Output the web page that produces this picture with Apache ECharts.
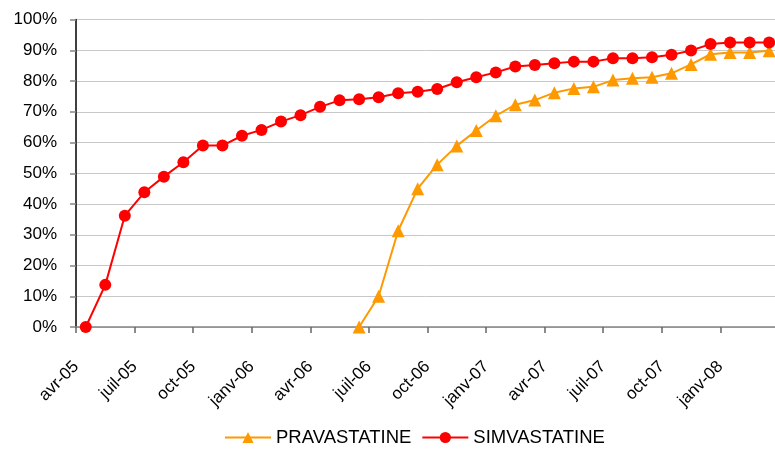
<!DOCTYPE html>
<html>
<head>
<meta charset="utf-8">
<script src="https://cdn.jsdelivr.net/npm/echarts@6/dist/echarts.min.js"></script>
<style>html,body{margin:0;padding:0;background:#fff;}#c{width:775px;height:452px;}</style>
</head>
<body>
<div id="c"></div>
<script>
// Monthly observations, avr-05 (index 0) to mars-08 (index 35)
const tickLabels = ['avr-05','juil-05','oct-05','janv-06','avr-06','juil-06','oct-06','janv-07','avr-07','juil-07','oct-07','janv-08'];
const simvastatine = [0, 13.7, 36.2, 43.8, 48.9, 53.6, 59.0, 59.0, 62.2, 64.1, 66.8, 68.9, 71.6, 73.7, 74.1, 74.7, 76.0, 76.5, 77.4, 79.6, 81.2, 82.8, 84.7, 85.2, 85.8, 86.3, 86.3, 87.4, 87.4, 87.7, 88.5, 89.9, 92.0, 92.5, 92.5, 92.5];
const pravastatineStart = 14;
const pravastatine = [0, 10.0, 31.3, 45.0, 52.8, 58.9, 63.9, 68.7, 72.3, 73.8, 76.2, 77.6, 78.1, 80.3, 80.9, 81.2, 82.5, 85.4, 88.7, 89.3, 89.3, 89.8];

const monthsPerTick = 3;
const tickValues = tickLabels.map((_, i) => i * monthsPerTick);
const simData = simvastatine.map((v, i) => [i + 0.5, v]);
const pravData = pravastatine.map((v, i) => [pravastatineStart + i + 0.5, v]);

const font = 'Liberation Sans, Arial, sans-serif';
const chart = echarts.init(document.getElementById('c'));
chart.setOption({
  animation: false,
  backgroundColor: '#fff',
  grid: { left: 76, right: 0, top: 19.5, bottom: 125, containLabel: false },
  legend: {
    top: 423,
    left: 219,
    itemWidth: 46,
    itemHeight: 14,
    itemGap: 10,
    textStyle: { fontFamily: font, fontSize: 18.5, color: '#000' },
    data: ['PRAVASTATINE', 'SIMVASTATINE']
  },
  xAxis: {
    type: 'value',
    min: 0,
    max: 35.8,
    interval: monthsPerTick,
    splitLine: { show: false },
    axisLine: { show: true, onZero: false, lineStyle: { color: '#858585', width: 1.5 } },
    axisTick: { show: true, length: 6, customValues: tickValues, lineStyle: { color: '#666', width: 1.5 } },
    axisLabel: {
      customValues: tickValues,
      rotate: 45,
      margin: 37,
      fontFamily: font,
      fontSize: 17,
      color: '#000',
      formatter: v => tickLabels[Math.round(v / monthsPerTick)] || ''
    }
  },
  yAxis: {
    type: 'value',
    min: 0,
    max: 100,
    interval: 10,
    axisLine: { show: true, lineStyle: { color: '#000', width: 1.5 } },
    axisTick: { show: true, length: 6, lineStyle: { color: '#858585', width: 1.5 } },
    splitLine: { lineStyle: { color: '#c8c8c8', width: 1 } },
    axisLabel: { formatter: '{value}%', fontFamily: font, fontSize: 17, color: '#000', margin: 19 }
  },
  series: [
    {
      name: 'PRAVASTATINE',
      type: 'line',
      data: pravData,
      symbol: 'triangle',
      symbolSize: 13,
      lineStyle: { color: '#FF9900', width: 2 },
      itemStyle: { color: '#FF9900' },
      z: 2
    },
    {
      name: 'SIMVASTATINE',
      type: 'line',
      data: simData,
      symbol: 'circle',
      symbolSize: 12,
      lineStyle: { color: '#FF0000', width: 2 },
      itemStyle: { color: '#FF0000' },
      z: 3
    }
  ]
});
</script>
</body>
</html>
